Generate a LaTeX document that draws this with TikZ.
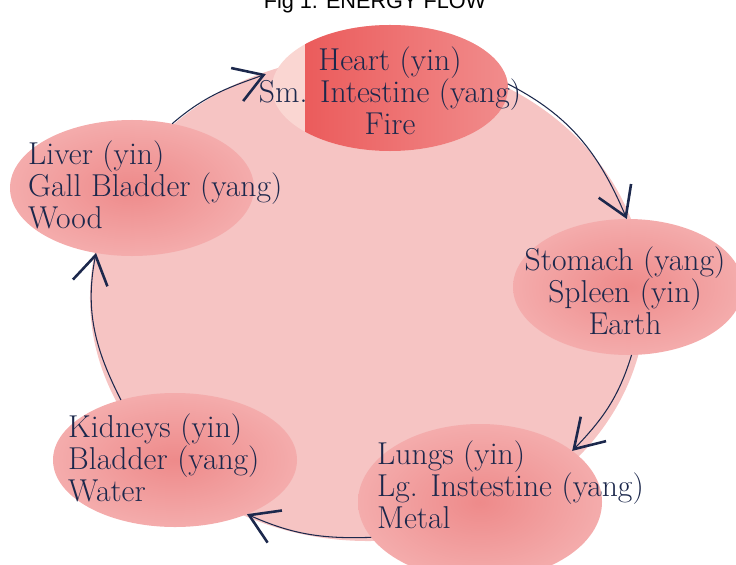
\documentclass[tikz,border=0pt]{standalone}
\usepackage{fontspec}
\usepackage{tikz}
\usetikzlibrary{shapes.geometric, arrows.meta}
\newfontfamily\titlefont{Liberation Sans}
\definecolor{inkblue}{RGB}{28,40,76}
\definecolor{wheelpink}{RGB}{246,196,195}
\definecolor{heartpale}{RGB}{250,214,210}
\definecolor{heartred}{RGB}{234,84,84}
\definecolor{heartrose}{RGB}{241,140,140}
\definecolor{organdeep}{RGB}{238,138,138}
\definecolor{organsoft}{RGB}{244,172,172}

\begin{document}
\begin{tikzpicture}[x=0.03cm, y=-0.03cm,
    organ/.style={ellipse, inner sep=0pt, outer sep=0pt, inner color=organdeep, outer color=organsoft},
    organtext/.style={inner sep=0pt, text=inkblue, font=\fontsize{27}{27.5}\selectfont},
    flow/.style={draw=inkblue, line width=0.9pt,
        -{Straight Barb[length=24pt, width=30pt, line width=2.2pt]}}]
    \useasboundingbox (0,0) rectangle (736,564);
    \clip (0,0) rectangle (736,564);

    % Title, cut off at the top edge
    \node[font=\titlefont\fontsize{18.5}{20}\selectfont, anchor=base, inner sep=0pt] (title) at (375,9) {Fig 1. ENERGY FLOW};

    % The wheel
    \fill[wheelpink] (368,298) ellipse [x radius=8.34cm, y radius=7.29cm];

    % Organ pairs
    \node[ellipse, inner sep=0pt, outer sep=0pt, fill=heartpale, minimum width=7.08cm, minimum height=3.78cm,
        path picture={\shade[left color=heartred, right color=heartrose]
            ([xshift=0.99cm]path picture bounding box.south west) rectangle (path picture bounding box.north east);}]
        (heart) at (390,88) {};
    \node[organ, minimum width=7.32cm, minimum height=4.08cm] (liver) at (132,188) {};
    \node[organ, minimum width=6.9cm, minimum height=4.08cm] (stomach) at (628,287) {};
    \node[organ, minimum width=7.32cm, minimum height=4.02cm] (kidneys) at (175,460) {};
    \node[organ, minimum width=7.32cm, minimum height=4.68cm] (lungs) at (480,502) {};

    % Labels
    \node[organtext, align=center] (hearttext) at (390,91) {Heart (yin)\\Sm. Intestine (yang)\\Fire};
    \node[organtext, align=left, anchor=west] (livertext) at (28,185) {Liver (yin)\\Gall Bladder (yang)\\Wood};
    \node[organtext, align=center] (stomachtext) at (625,291) {Stomach (yang)\\Spleen (yin)\\Earth};
    \node[organtext, align=left, anchor=west] (kidneystext) at (68,458) {Kidneys (yin)\\Bladder (yang)\\Water};
    \node[organtext, align=left, anchor=west] (lungstext) at (377,485) {Lungs (yin)\\Lg. Instestine (yang)\\Metal};

    % Energy flow round the wheel
    \draw[flow, shorten >=10pt] (liver.58) to[out=41, in=200] (heart.171);
    \draw[flow] (heart.2) to[out=-27, in=113] (stomach.91);
    \draw[flow] (stomach.273) to[out=-107, in=46] (lungs.29);
    \draw[flow] (lungs.198) to[out=182, in=336] (kidneys.323);
    \draw[flow] (kidneys.132) to[out=117, in=259] (liver.241);
\end{tikzpicture}
\end{document}
